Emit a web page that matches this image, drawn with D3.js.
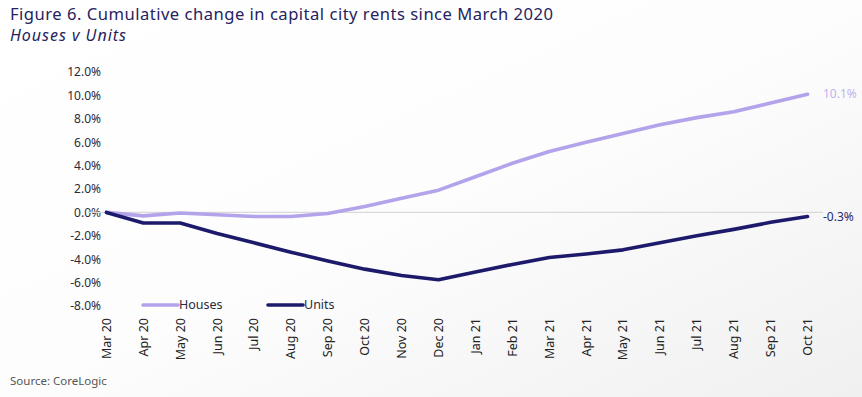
<!DOCTYPE html>
<html><head><meta charset="utf-8">
<script src="https://cdn.jsdelivr.net/npm/d3@7"></script>
<style>
html,body{margin:0;padding:0;background:#fff;}
svg{display:block;font-family:"Noto Sans",sans-serif;}
</style></head>
<body><svg id="c" width="862" height="397"></svg>
<script>
const months = ["Mar 20","Apr 20","May 20","Jun 20","Jul 20","Aug 20","Sep 20","Oct 20","Nov 20","Dec 20","Jan 21","Feb 21","Mar 21","Apr 21","May 21","Jun 21","Jul 21","Aug 21","Sep 21","Oct 21"];
const houses = [0,-0.3,-0.05,-0.2,-0.35,-0.35,-0.1,0.5,1.2,1.9,3.05,4.2,5.2,6.0,6.75,7.5,8.1,8.6,9.35,10.1];
const units  = [0,-0.9,-0.9,-1.8,-2.6,-3.4,-4.15,-4.85,-5.4,-5.75,-5.1,-4.45,-3.85,-3.55,-3.2,-2.6,-2.0,-1.45,-0.85,-0.35];
const yTicks = [12,10,8,6,4,2,0,-2,-4,-6,-8];
const seriesNames = ["Houses","Units"];
const endLabels = ["10.1%","-0.3%"];
const colors = ["#b3a3ea","#1d1a6c"];

const svg = d3.select("#c");
const defs = svg.append("defs");
const g = defs.append("linearGradient").attr("id","bg").attr("x1","0").attr("y1","0").attr("x2","1").attr("y2","1");
g.append("stop").attr("offset","0").attr("stop-color","#ffffff");
g.append("stop").attr("offset","0.5").attr("stop-color","#fdfdfd");
g.append("stop").attr("offset","1").attr("stop-color","#f0f0f0");
svg.append("rect").attr("width",862).attr("height",397).attr("fill","url(#bg)");

const x = d3.scaleBand().domain(months).range([88,826]);
const y = d3.scaleLinear().domain([-8,12]).range([306,72]);
const cx = d => x(d) + x.bandwidth()/2;

// title
svg.append("text").attr("x",10).attr("y",20).attr("font-size",16.6).attr("fill","#26235e")
  .attr("textLength",543).attr("lengthAdjust","spacing")
  .text("Figure 6. Cumulative change in capital city rents since March 2020");
svg.append("text").attr("x",10).attr("y",41).attr("font-size",16).attr("font-style","italic").attr("fill","#26235e")
  .attr("textLength",116).attr("lengthAdjust","spacing")
  .text("Houses v Units");

// y axis labels
const yAxis = d3.axisLeft(y).tickValues(yTicks).tickFormat(d => d.toFixed(1) + "%").tickSize(0).tickPadding(0);
const ya = svg.append("g").attr("transform","translate(101,0)").call(yAxis);
ya.select(".domain").remove();
ya.selectAll("text").attr("font-size",12).attr("fill","#2b2b3a").attr("font-family","Noto Sans, sans-serif");

// zero line
svg.append("line").attr("x1",88).attr("x2",823).attr("y1",y(0)).attr("y2",y(0))
  .attr("stroke","#d9d9d9").attr("stroke-width",1.2);

// x axis labels
const xAxis = d3.axisBottom(x).tickSize(0).tickPadding(0);
const xa = svg.append("g").attr("transform","translate(0,318)").call(xAxis);
xa.select(".domain").remove();
xa.selectAll("text").attr("font-size",12.5).attr("fill","#222").attr("font-family","Noto Sans, sans-serif")
  .attr("text-anchor","end").attr("dy","0.35em").attr("transform","rotate(-90)").attr("x",0).attr("y",0);

// lines
const line = d3.line().x((d,i) => cx(months[i])).y(d => y(d));
[houses, units].forEach((s,k) => {
  svg.append("path").datum(s).attr("d",line).attr("fill","none")
    .attr("stroke",colors[k]).attr("stroke-width",3.6).attr("stroke-linecap","round").attr("stroke-linejoin","round");
});

// end labels
[houses, units].forEach((s,k) => {
  svg.append("text").attr("x",823).attr("y",y(s[s.length-1])).attr("dy","0.35em")
    .attr("font-size",12).attr("fill",k === 0 ? "#c0b3ee" : "#2a2870").text(endLabels[k]);
});

// legend
const lx = [143,268];
seriesNames.forEach((n,k) => {
  svg.append("line").attr("x1",lx[k]).attr("x2",lx[k]+35).attr("y1",305).attr("y2",305)
    .attr("stroke",colors[k]).attr("stroke-width",3.6).attr("stroke-linecap","round");
  svg.append("text").attr("x",lx[k]+36).attr("y",305).attr("dy","0.35em").attr("font-size",12.5).attr("fill","#2b2b3a").text(n);
});

// source
svg.append("text").attr("x",10).attr("y",385).attr("font-size",11.5).attr("fill","#555").text("Source: CoreLogic");
</script>
</body></html>
